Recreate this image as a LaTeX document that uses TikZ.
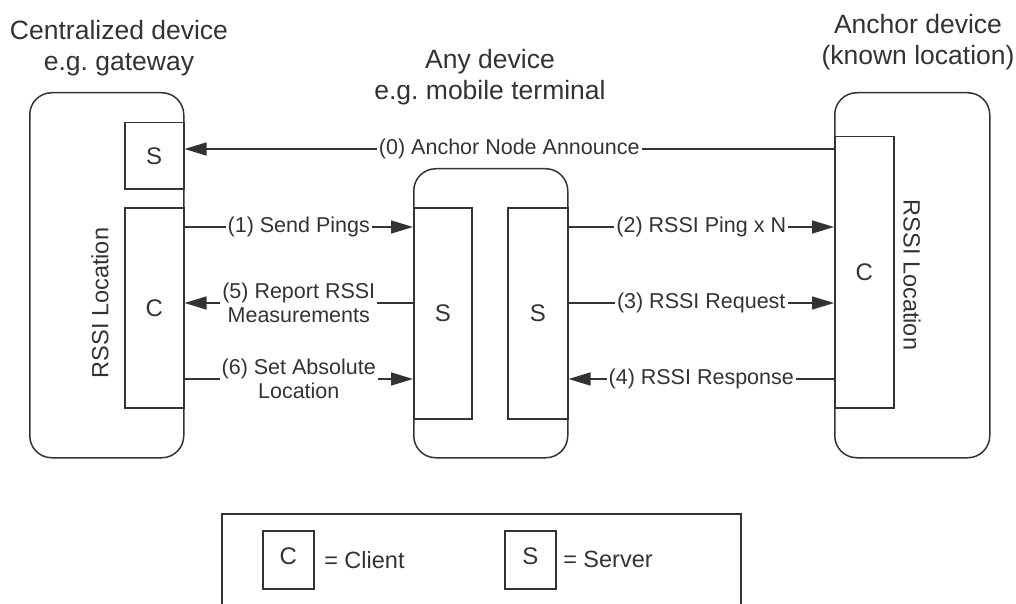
\documentclass[tikz,border=0pt]{standalone}
\usepackage{fontspec}
\setmainfont{Liberation Sans}
\usetikzlibrary{arrows.meta,positioning}

\tikzset{
    device/.style={draw, rounded corners=22pt, anchor=north west, inner sep=0pt},
    part/.style={draw, fill=white, anchor=north west, inner sep=0pt, font=\fontsize{24}{28}\selectfont},
    msg/.style={-{Triangle[length=22pt, width=13pt]}},
    msglabel/.style={fill=white, inner sep=2pt, align=center, font=\fontsize{21.5}{24}\selectfont},
    devtitle/.style={align=center, font=\fontsize{26.5}{31}\selectfont},
    loclabel/.style={font=\fontsize{23.5}{28}\selectfont},
}
\frenchspacing

\begin{document}
\begin{tikzpicture}[x=1pt, y=-1pt, line width=1.5pt, color=black!80]
    \useasboundingbox (0,0) rectangle (1016,604);
    \clip (0,0) rectangle (1016,604);

    % devices
    \node[device, minimum width=154, minimum height=365] (gw) at (29,92) {};
    \node[device, minimum width=154, minimum height=289] (mt) at (413,168) {};
    \node[device, minimum width=155, minimum height=365] (an) at (834,92) {};
    \node[devtitle] (gwtitle) at (119,48) {Centralized device\\e.g. gateway};
    \node[devtitle] (mttitle) at (490,77) {Any device\\e.g. mobile terminal};
    \node[devtitle] (antitle) at (918,42) {Anchor device\\(known location)};

    % clients and servers
    \node[part, minimum width=59, minimum height=66] (gwS) at (124,122) {S};
    \node[part, minimum width=59, minimum height=200] (gwC) at (124,207) {C};
    \node[part, minimum width=58, minimum height=211] (mtS1) at (413,207) {S};
    \node[part, minimum width=60, minimum height=211] (mtS2) at (507,207) {S};
    \node[part, minimum width=59, minimum height=271] (anC) at (834,136) {C};
    \node[loclabel, rotate=90] (gwloc) at (100,303) {RSSI Location};
    \node[loclabel, rotate=-90] (anloc) at (912,275) {RSSI Location};

    % message rows
    \coordinate (r0) at (0,149);
    \coordinate (r1) at (0,227);
    \coordinate (r2) at (0,303);
    \coordinate (r3) at (0,379);
    \draw[msg] (anC.west |- r0) -- node[msglabel] {(0) Anchor Node Announce} (gwS.east |- r0);
    \draw[msg] (gwC.east |- r1) -- node[msglabel] {(1) Send Pings} (mtS1.west |- r1);
    \draw[msg] (mtS1.west |- r2) -- node[msglabel] {(5) Report RSSI\\Measurements} (gwC.east |- r2);
    \draw[msg] (gwC.east |- r3) -- node[msglabel] {(6) Set Absolute\\Location} (mtS1.west |- r3);
    \draw[msg] (mtS2.east |- r1) -- node[msglabel] {(2) RSSI Ping x N} (anC.west |- r1);
    \draw[msg] (mtS2.east |- r2) -- node[msglabel] {(3) RSSI Request} (anC.west |- r2);
    \draw[msg] (anC.west |- r3) -- node[msglabel] {(4) RSSI Response} (mtS2.east |- r3);

    % legend
    \node[draw, anchor=north west, minimum width=519, minimum height=130] (legend) at (221,513) {};
    \node[part, minimum width=51, minimum height=58, text depth=8pt] (lgC) at (262,530) {C};
    \node[loclabel, right=9pt of lgC, inner sep=0pt] (lgCtext) {= Client};
    \node[part, minimum width=51, minimum height=58, text depth=8pt] (lgS) at (504,530) {S};
    \node[loclabel, right=6pt of lgS, inner sep=0pt] (lgStext) {= Server};
\end{tikzpicture}
\end{document}
